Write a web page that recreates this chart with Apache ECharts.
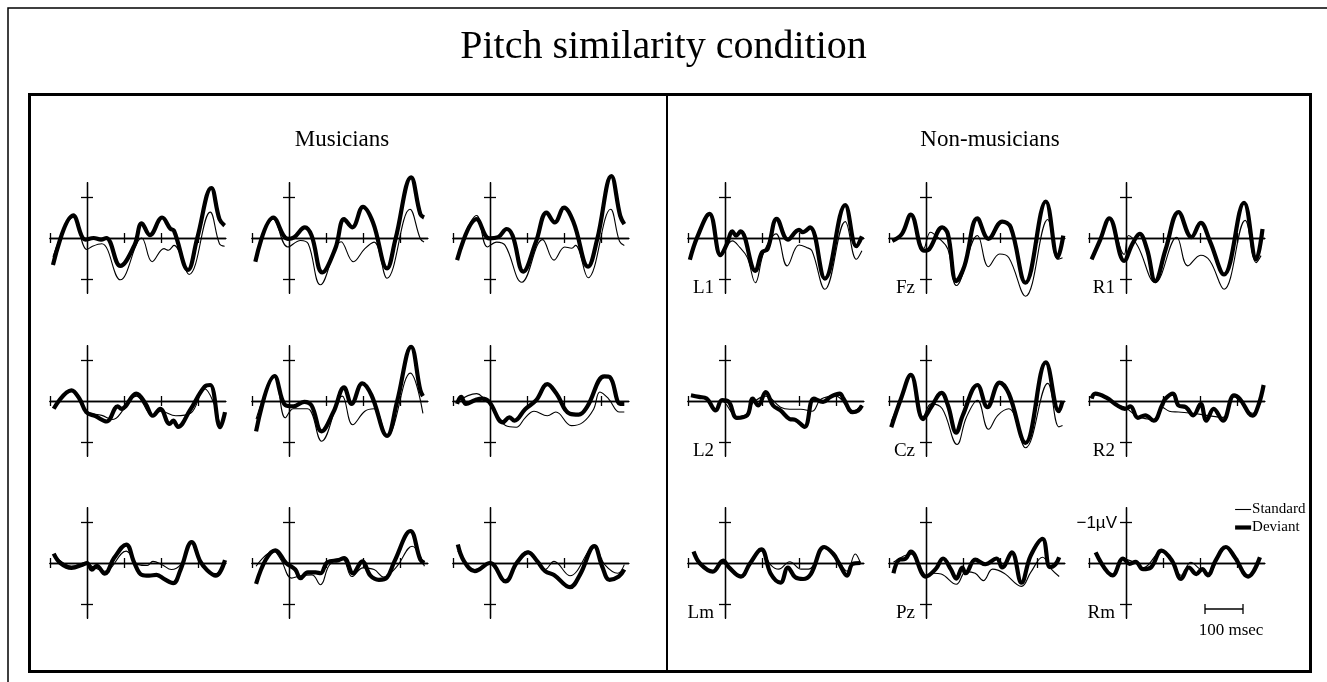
<!DOCTYPE html>
<html>
<head>
<meta charset="utf-8">
<script src="https://cdn.jsdelivr.net/npm/echarts@6/dist/echarts.min.js"></script>
<style>
html, body { margin: 0; padding: 0; background: #fff; }
#main { width: 1327px; height: 682px; }
</style>
</head>
<body>
<div id="main"></div>
<script>
// ERP waveforms, [msec, microvolt]; negative is plotted up
var electrodes = ['L1', 'Fz', 'R1', 'L2', 'Cz', 'R2', 'Lm', 'Pz', 'Rm'];

// Musicians
var musL1Std = [[-92,0.46],[-37,-0.5],[0,0.28],[15,0.2],[40,0.14],[90,1.02],[148,0],[176,0.58],[208,0.26],[220,0.3],[235,0.18],[276,0.89],[333,-0.63],[358,0.14],[372,0.2]];
var musL1Dev = [[-92,0.66],[-37,-0.55],[-4,0.04],[18,0],[38,0.04],[52,0],[90,0.68],[128,0.18],[148,-0.36],[170,-0.07],[203,-0.5],[225,-0.23],[235,-0.18],[273,0.78],[298,0],[336,-1.22],[358,-0.46],[372,-0.3]];
var musFzStd = [[-91,0.5],[-42,-0.46],[-3,0.22],[31,0.06],[52,0.14],[85,1.14],[141,0.09],[174,0.58],[205,0.26],[230,0.1],[265,0.98],[327,-0.7],[355,0.02],[365,0.1]];
var musFzDev = [[-91,0.58],[-42,-0.5],[-3,0.02],[14,-0.02],[43,-0.26],[61,-0.06],[90,0.84],[125,0.26],[149,-0.46],[171,-0.26],[200,-0.76],[227,-0.38],[265,0.74],[288,0.02],[330,-1.48],[355,-0.58],[365,-0.5]];
var musR1Std = [[-89,0.46],[-36,-0.55],[-7,0.22],[18,0.1],[41,0.18],[86,1.08],[142,0.04],[173,0.54],[202,0.22],[221,0.25],[231,0.18],[265,0.97],[326,-0.7],[350,0.08],[363,0.18]];
var musR1Dev = [[-89,0.54],[-36,-0.46],[-2,0.01],[22,-0.02],[45,-0.22],[61,-0.06],[90,0.82],[124,0.1],[153,-0.62],[175,-0.38],[200,-0.74],[226,-0.38],[265,0.7],[290,0.02],[328,-1.51],[352,-0.54],[363,-0.34]];
var musL2Std = [[-90,0.15],[-42,-0.25],[-2,0.25],[40,0.35],[70,0.45],[100,0.2],[133,-0.12],[178,0.35],[200,0.25],[240,0.36],[280,0.3],[318,-0.3],[345,0.1],[362,0.55],[373,0.3]];
var musL2Dev = [[-90,0.19],[-42,-0.26],[-20,-0.05],[-2,0.27],[23,0.37],[53,0.5],[83,0.13],[93,0.19],[133,-0.18],[158,0.06],[178,0.36],[198,0.19],[223,0.56],[233,0.48],[246,0.63],[278,0.23],[318,-0.35],[333,-0.39],[360,0.64],[373,0.27]];
var musCzStd = [[-89,0.44],[-39,-0.58],[-10,0.41],[12,0.19],[50,0.19],[88,0.98],[144,-0.12],[172,0.58],[205,0.25],[230,0.19],[265,0.85],[328,-0.68],[362,0.3]];
var musCzDev = [[-89,0.74],[-39,-0.61],[-10,0.1],[12,0.13],[41,0.02],[61,0.11],[88,0.74],[120,0.27],[149,-0.33],[169,0.07],[198,-0.43],[223,-0.14],[265,0.85],[292,0.02],[330,-1.32],[355,-0.26],[362,-0.12]];
var musR2Std = [[-89,0.02],[-36,-0.18],[-16,-0.06],[0,0.1],[42,0.6],[71,0.64],[95,0.41],[119,0.25],[155,0.36],[178,0.27],[220,0.6],[251,0.52],[280,0.2],[297,-0.22],[320,-0.06],[350,0.27],[363,0.27]];
var musR2Dev = [[-89,0.07],[-78,-0.1],[-65,0.07],[-41,-0.02],[-21,-0.06],[-2,0.02],[35,0.52],[52,0.4],[66,0.48],[95,0.2],[125,-0.02],[155,-0.41],[178,-0.2],[216,0.31],[240,0.33],[262,0.15],[309,-0.6],[324,-0.58],[352,0.07],[363,0.07]];
var musLmStd = [[-90,-0.2],[-42,0.08],[0,-0.02],[13,0.08],[48,0.2],[106,-0.29],[138,0.04],[163,0.06],[178,-0.04],[203,0.04],[228,0.16],[253,0.04],[283,-0.49],[318,0.15],[348,0.26],[373,0]];
var musLmDev = [[-90,-0.23],[-72,0],[-42,0.12],[-12,0.04],[0,0],[13,0.16],[26,0.07],[48,0.26],[73,-0.12],[106,-0.45],[128,0],[148,0.29],[168,0.31],[188,0.29],[208,0.39],[233,0.49],[253,0.16],[283,-0.51],[306,-0.04],[323,0.16],[348,0.31],[373,-0.07]];
var musPzStd = [[-89,0.08],[-42,-0.29],[-22,-0.08],[7,0.37],[32,0.31],[62,0.29],[85,0.53],[110,0.04],[144,-0.1],[170,0.33],[200,0.12],[230,0.16],[256,0.34],[290,0.1],[333,-0.41],[366,0.08]];
var musPzDev = [[-89,0.51],[-63,-0.08],[-37,-0.31],[-8,0],[17,0.16],[31,0.37],[51,0.23],[72,0.23],[85,0.25],[104,-0.02],[134,-0.07],[149,-0.12],[173,0.25],[198,-0.04],[220,0.31],[243,0.41],[265,0.35],[285,-0.04],[328,-0.78],[355,-0.08],[366,0]];
var musRmStd = [[-87,-0.29],[-41,0.16],[0,0],[38,0.41],[103,-0.29],[149,0.16],[173,-0.04],[216,0.31],[282,-0.39],[310,0.04],[345,0.25],[363,0.04]];
var musRmDev = [[-87,-0.45],[-70,-0.04],[-41,0.2],[0,0],[42,0.45],[72,0],[103,-0.26],[128,-0.04],[149,0.2],[173,0.29],[216,0.59],[243,0.29],[282,-0.41],[303,0.08],[323,0.41],[348,0.33],[363,0.16]];

// Non-musicians
var nonL1Std = [[-95,0.5],[-75,0],[-42,-0.55],[-12,0.42],[20,0.07],[40,0.23],[60,0.47],[82,1.09],[105,0.35],[138,-0.1],[168,0.68],[200,0.17],[220,0.23],[235,0.31],[270,1.25],[325,-0.4],[355,0.52],[370,0.31]];
var nonL1Dev = [[-95,0.53],[-75,-0.02],[-42,-0.59],[-12,0.42],[5,0.15],[20,-0.16],[30,-0.06],[42,-0.16],[82,0.8],[100,0.35],[115,0.27],[140,-0.47],[170,0.04],[200,-0.2],[210,-0.14],[230,-0.26],[270,0.99],[325,-0.8],[355,0.2],[370,-0.04]];
var nonFzStd = [[-91,0.07],[-65,-0.1],[-41,-0.55],[-6,0.25],[12,-0.14],[34,0],[59,0.27],[82,1.16],[139,-0.06],[169,0.7],[199,0.39],[224,0.48],[269,1.42],[329,-0.45],[356,0.52],[369,0.48]];
var nonFzDev = [[-91,0.07],[-65,-0.1],[-41,-0.57],[-6,0.31],[9,0.27],[44,-0.26],[59,-0.1],[82,1.05],[104,0.68],[139,-0.48],[169,0.02],[206,-0.4],[229,-0.26],[269,1.09],[324,-0.89],[356,0.47],[371,-0.06]];
var nonR1Std = [[-93,0.52],[-70,0.05],[-45,-0.48],[-5,0.4],[7,-0.06],[32,0.2],[79,1.09],[137,-0.02],[167,0.68],[202,0.42],[227,0.56],[265,1.25],[322,-0.43],[352,0.6],[365,0.43]];
var nonR1Dev = [[-93,0.52],[-70,0.05],[-45,-0.48],[-5,0.56],[17,0.15],[37,-0.1],[57,0.28],[79,1.05],[107,0.28],[142,-0.63],[177,-0.02],[202,-0.37],[227,0.08],[265,0.89],[319,-0.86],[352,0.52],[369,-0.22]];
var nonL2Std = [[-92,-0.12],[-50,-0.05],[-25,0.2],[-8,0],[32,0.38],[60,0.3],[75,0.05],[110,-0.12],[150,0.15],[175,0.2],[205,0.2],[235,0.25],[260,-0.05],[300,-0.12],[345,0.25],[370,0.1]];
var nonL2Dev = [[-92,-0.14],[-70,-0.1],[-50,-0.06],[-25,0.23],[-8,-0.02],[10,0.02],[32,0.41],[60,0.35],[75,-0.06],[90,0.11],[110,-0.22],[130,0.11],[150,0.23],[175,0.44],[190,0.46],[215,0.63],[240,-0.06],[265,0.02],[285,-0.1],[310,-0.18],[320,-0.06],[345,0.27],[360,0.23],[370,0.11]];
var nonCzStd = [[-94,0.5],[-66,-0.1],[-41,-0.6],[-8,0.38],[14,0.07],[44,0.19],[84,1.06],[109,0.4],[139,-0.02],[169,0.69],[194,0.35],[224,0.19],[269,1.14],[329,-0.43],[359,0.63],[369,0.6]];
var nonCzDev = [[-94,0.64],[-66,-0.1],[-41,-0.64],[-8,0.44],[14,0.15],[42,-0.2],[59,0.1],[82,0.77],[99,0.36],[139,-0.39],[166,0.15],[199,-0.45],[224,-0.18],[269,1.02],[324,-0.94],[359,0.25],[369,0]];
var nonR2Std = [[-93,-0.06],[-83,-0.16],[-53,-0.08],[-23,0.1],[-3,0.15],[32,0.38],[75,0.45],[97,0.15],[117,0.25],[142,0.27],[182,0.3],[217,0.35],[262,0.4],[292,-0.1],[342,0.3],[365,0]];
var nonR2Dev = [[-93,-0.06],[-83,-0.18],[-53,-0.08],[-23,0.11],[-3,0.19],[12,0.13],[32,0.41],[52,0.35],[75,0.48],[97,0.11],[107,-0.06],[127,-0.18],[142,0.11],[162,0.15],[182,0.35],[202,0.07],[217,0.48],[237,0.19],[262,0.48],[292,-0.14],[307,-0.06],[342,0.36],[358,0.1],[372,-0.39]];
var nonLmStd = [[-85,-0.25],[-67,0.02],[-33,0.2],[-5,-0.05],[10,0.08],[43,0.3],[67,0.02],[98,-0.3],[124,0.05],[145,0.15],[175,-0.03],[206,0.15],[226,0.15],[268,-0.36],[300,-0.15],[330,0.2],[352,-0.22],[366,0]];
var nonLmDev = [[-85,-0.28],[-67,0.02],[-33,0.21],[-5,-0.06],[10,0.1],[43,0.33],[67,0.02],[98,-0.33],[124,0.27],[150,0.48],[170,0.11],[190,0.35],[211,0.39],[232,0.27],[268,-0.39],[293,-0.22],[309,0.02],[330,0.31],[345,0.02],[366,0]];
var nonPzStd = [[-88,-0.02],[-41,-0.22],[0,0.31],[21,0.25],[41,0.27],[82,0.52],[108,0.21],[133,0.25],[155,0.43],[180,0.15],[211,0.25],[258,0.57],[283,0.23],[315,-0.14],[340,0.16],[360,0.33]];
var nonPzDev = [[-88,0.25],[-72,-0.08],[-56,-0.1],[-41,-0.28],[0,0.33],[26,0.15],[46,-0.11],[67,0.15],[82,0.38],[98,0.11],[107,0.25],[133,-0.08],[160,0.03],[191,-0.11],[206,0.11],[232,-0.26],[258,0.48],[283,-0.18],[315,-0.59],[335,0.1],[350,0.03],[360,-0.14]];
var nonRmStd = [[-82,-0.24],[-36,0.28],[-8,-0.1],[26,0],[46,0.12],[96,-0.28],[124,-0.05],[149,0.3],[175,-0.02],[200,0.15],[221,0.25],[270,-0.38],[294,-0.12],[330,0.3],[362,-0.12]];
var nonRmDev = [[-82,-0.26],[-36,0.3],[-8,-0.11],[10,0.02],[26,-0.03],[46,0.15],[67,0.11],[96,-0.3],[124,-0.06],[149,0.39],[170,0.11],[190,0.27],[206,0.15],[221,0.3],[242,-0.06],[270,-0.39],[294,-0.14],[330,0.33],[362,-0.14]];

var timeTicks = [-100, 100, 200, 300];
var uvTicks = [-1, 1];

var musStd = [musL1Std, musFzStd, musR1Std, musL2Std, musCzStd, musR2Std, musLmStd, musPzStd, musRmStd];
var musDev = [musL1Dev, musFzDev, musR1Dev, musL2Dev, musCzDev, musR2Dev, musLmDev, musPzDev, musRmDev];
var nonStd = [nonL1Std, nonFzStd, nonR1Std, nonL2Std, nonCzStd, nonR2Std, nonLmStd, nonPzStd, nonRmStd];
var nonDev = [nonL1Dev, nonFzDev, nonR1Dev, nonL2Dev, nonCzDev, nonR2Dev, nonLmDev, nonPzDev, nonRmDev];

// layout of the small panels (pixel position of t=0 and of 0 uV)
var colX0 = [87, 289, 490, 725, 926, 1126];
var rowBase = [238, 401, 563];
var pxMs = 0.37, pxUv = 41;
var tMin = -100, tMax = 375, uvLim = 1.35;
var serif = 'Liberation Serif';

var grids = [], xAxes = [], yAxes = [], series = [], graphics = [];

var axisStyle = {color: '#000', width: 1.3};

var addPanel = function (col, row, std, dev, label) {
    var gi = grids.length;
    var x0 = colX0[col], base = rowBase[row];
    grids.push({
        left: x0 + tMin * pxMs,
        top: base - uvLim * pxUv,
        width: (tMax - tMin) * pxMs,
        height: 2 * uvLim * pxUv
    });
    // two copies of each axis so the ticks cross the axis line
    [false, true].forEach(function (inside) {
        xAxes.push({
            gridIndex: gi, type: 'value', min: tMin, max: tMax, position: 'bottom',
            axisLine: {onZero: true, lineStyle: axisStyle},
            axisTick: {show: true, inside: inside, length: 5, customValues: timeTicks, lineStyle: axisStyle},
            axisLabel: {show: false}, splitLine: {show: false}
        });
        yAxes.push({
            gridIndex: gi, type: 'value', min: -uvLim, max: uvLim, inverse: true, position: 'left',
            axisLine: {onZero: true, lineStyle: axisStyle},
            axisTick: {show: true, inside: inside, length: 6, customValues: uvTicks, lineStyle: axisStyle},
            axisLabel: {show: false}, splitLine: {show: false}
        });
    });
    series.push({
        name: 'Standard', type: 'line', xAxisIndex: 2 * gi, yAxisIndex: 2 * gi,
        data: std, smooth: 0.4, symbol: 'none', clip: false, z: 3,
        lineStyle: {color: '#000', width: 1.1}, itemStyle: {color: '#000'}
    });
    series.push({
        name: 'Deviant', type: 'line', xAxisIndex: 2 * gi, yAxisIndex: 2 * gi,
        data: dev, smooth: 0.4, symbol: 'none', clip: false, z: 4,
        lineStyle: {color: '#000', width: 4.2}, itemStyle: {color: '#000'}
    });
    if (label) {
        graphics.push({
            type: 'text', x: x0 - 11, y: base + 50,
            style: {text: label, font: '19px "' + serif + '"', fill: '#000', align: 'right', verticalAlign: 'middle'}
        });
    }
};

for (var i = 0; i < 9; i++) {
    var col = i % 3, row = Math.floor(i / 3);
    addPanel(col, row, musStd[i], musDev[i], null);
    addPanel(col + 3, row, nonStd[i], nonDev[i], electrodes[i]);
}

// frames
graphics.push({type: 'rect', shape: {x: 8, y: 8, width: 1330, height: 700}, style: {fill: 'none', stroke: '#000', lineWidth: 1.5}});
graphics.push({type: 'rect', shape: {x: 29.5, y: 94.5, width: 1281, height: 577}, style: {fill: 'none', stroke: '#000', lineWidth: 3}});
graphics.push({type: 'line', shape: {x1: 667, y1: 95, x2: 667, y2: 671}, style: {stroke: '#000', lineWidth: 2}});

// group headings
graphics.push({type: 'text', x: 342, y: 140, style: {text: 'Musicians', font: '23px "' + serif + '"', fill: '#000', align: 'center', verticalAlign: 'middle'}});
graphics.push({type: 'text', x: 990, y: 140, style: {text: 'Non-musicians', font: '23px "' + serif + '"', fill: '#000', align: 'center', verticalAlign: 'middle'}});

// amplitude label and time scale bar
graphics.push({type: 'text', x: 1117, y: 523, style: {text: '\u22121\u00b5V', font: '17px "Liberation Sans"', fill: '#000', align: 'right', verticalAlign: 'middle'}});
graphics.push({type: 'line', shape: {x1: 1205, y1: 609, x2: 1243, y2: 609}, style: {stroke: '#000', lineWidth: 1.3}});
graphics.push({type: 'line', shape: {x1: 1205, y1: 604, x2: 1205, y2: 614}, style: {stroke: '#000', lineWidth: 1.3}});
graphics.push({type: 'line', shape: {x1: 1243, y1: 604, x2: 1243, y2: 614}, style: {stroke: '#000', lineWidth: 1.3}});
graphics.push({type: 'text', x: 1231, y: 631, style: {text: '100 msec', font: '17px "' + serif + '"', fill: '#000', align: 'center', verticalAlign: 'middle'}});

var chart = echarts.init(document.getElementById('main'));
chart.setOption({
    animation: false,
    backgroundColor: '#fff',
    title: {
        text: 'Pitch similarity condition', left: 'center', top: 22,
        textStyle: {fontFamily: serif, fontWeight: 'normal', fontSize: 40, color: '#000'}
    },
    legend: {
        data: ['Standard', 'Deviant'], orient: 'vertical', left: 1228, top: 497,
        itemWidth: 16, itemHeight: 14, itemGap: 3, selectedMode: false,
        itemStyle: {opacity: 0},
        lineStyle: {width: 'inherit'},
        textStyle: {fontFamily: serif, fontSize: 15, color: '#000', padding: [0, 0, 0, -4]}
    },
    grid: grids,
    xAxis: xAxes,
    yAxis: yAxes,
    series: series,
    graphic: graphics
});
</script>
</body>
</html>
